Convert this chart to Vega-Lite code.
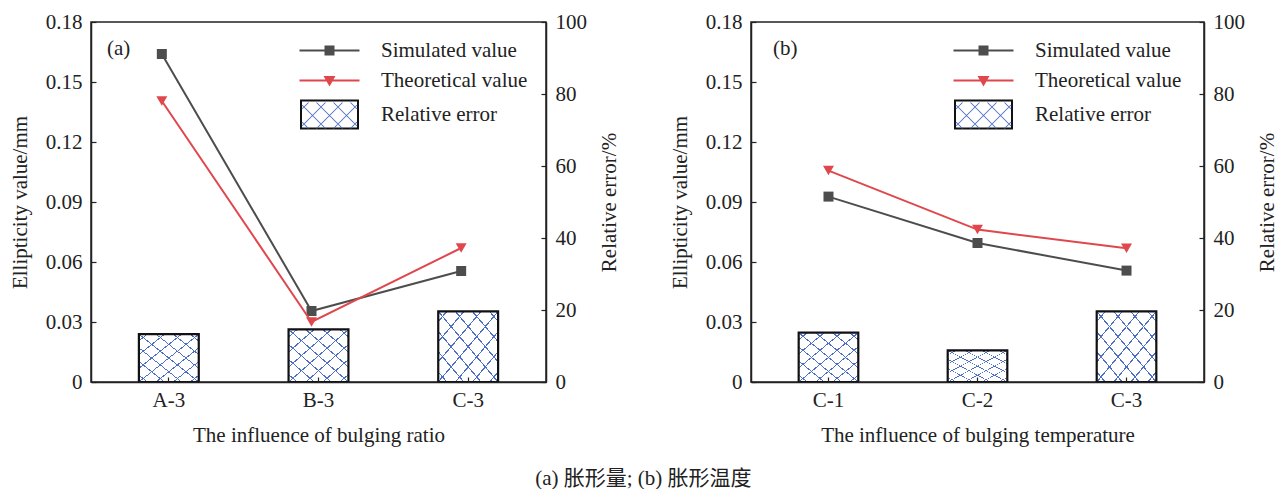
{
  "$schema": "https://vega.github.io/schema/vega-lite/v6.json",
  "background": "white",
  "padding": {"left": 8, "top": 10, "right": 0, "bottom": 0},
  "config": {
    "font": "Liberation Serif",
    "view": {"stroke": "#222", "strokeWidth": 1.5},
    "axis": {"labelFont": "Liberation Serif", "titleFont": "Liberation Serif", "labelFontSize": 21, "titleFontSize": 21, "titleFontWeight": "normal", "labelColor": "#222", "titleColor": "#222", "domainColor": "#222", "tickColor": "#222", "domainWidth": 1.5, "tickWidth": 1.2, "tickSize": -5, "grid": false, "labelPadding": 14},
    "legend": {"labelFont": "Liberation Serif", "labelFontSize": 21, "labelColor": "#222", "padding": 0, "symbolSize": 400, "labelOffset": 41, "rowPadding": 8, "symbolStrokeWidth": 0},
    "title": {"font": "Liberation Serif", "fontWeight": "normal", "color": "#222"}
  },
  "title": {"text": "(a) 胀形量; (b) 胀形温度", "orient": "bottom", "anchor": "middle", "fontSize": 21, "font": "Liberation Serif, Noto Sans CJK SC", "offset": 22},
  "spacing": 47,
  "resolve": {"scale": {"color": "independent", "shape": "independent", "fill": "independent"}},
  "hconcat": [
    {
      "width": 455, "height": 360,
      "title": {"text": "(a)", "anchor": "start", "frame": "group", "fontSize": 21, "dx": 16, "dy": 52},
      "data": {"values": [
        {"cat": "A-3", "sim": 0.164, "theo": 0.1405, "err": 13.3},
        {"cat": "B-3", "sim": 0.0355, "theo": 0.030, "err": 14.6},
        {"cat": "C-3", "sim": 0.0555, "theo": 0.067, "err": 19.6}
      ]},
      "encoding": {"x": {"field": "cat", "type": "nominal", "sort": null, "scale": {"paddingInner": 0.6, "paddingOuter": 0.32}, "axis": {"title": "The influence of bulging ratio", "labelAngle": 0, "zindex": 1, "labelPadding": 12, "titlePadding": 14}}},
      "layer": [
        {
          "encoding": {"y": {"field": "err", "type": "quantitative", "scale": {"domain": [0, 100], "nice": false}, "axis": {"orient": "right", "title": "Relative error/%", "values": [0, 20, 40, 60, 80, 100], "titleAngle": 270, "titleBaseline": "top", "titlePadding": 12}}},
          "layer": [
            {"mark": {"type": "bar", "fill": {"gradient": "linear", "x1": 0, "y1": 0, "x2": 1, "y2": 1, "stops": [
              {"offset": 0, "color": "#ffffff"},
              {"offset": 0.0654, "color": "#ffffff"}, {"offset": 0.0654, "color": "#4d6ec6"}, {"offset": 0.0774, "color": "#4d6ec6"}, {"offset": 0.0774, "color": "#ffffff"},
              {"offset": 0.2083, "color": "#ffffff"}, {"offset": 0.2083, "color": "#4d6ec6"}, {"offset": 0.2203, "color": "#4d6ec6"}, {"offset": 0.2203, "color": "#ffffff"},
              {"offset": 0.3511, "color": "#ffffff"}, {"offset": 0.3511, "color": "#4d6ec6"}, {"offset": 0.3631, "color": "#4d6ec6"}, {"offset": 0.3631, "color": "#ffffff"},
              {"offset": 0.494, "color": "#ffffff"}, {"offset": 0.494, "color": "#4d6ec6"}, {"offset": 0.506, "color": "#4d6ec6"}, {"offset": 0.506, "color": "#ffffff"},
              {"offset": 0.6369, "color": "#ffffff"}, {"offset": 0.6369, "color": "#4d6ec6"}, {"offset": 0.6489, "color": "#4d6ec6"}, {"offset": 0.6489, "color": "#ffffff"},
              {"offset": 0.7797, "color": "#ffffff"}, {"offset": 0.7797, "color": "#4d6ec6"}, {"offset": 0.7917, "color": "#4d6ec6"}, {"offset": 0.7917, "color": "#ffffff"},
              {"offset": 0.9226, "color": "#ffffff"}, {"offset": 0.9226, "color": "#4d6ec6"}, {"offset": 0.9346, "color": "#4d6ec6"}, {"offset": 0.9346, "color": "#ffffff"},
              {"offset": 1, "color": "#ffffff"}]}}},
            {"mark": {"type": "bar", "stroke": "#111111", "strokeWidth": 2.2, "fill": {"gradient": "linear", "x1": 1, "y1": 0, "x2": 0, "y2": 1, "stops": [
              {"offset": 0, "color": "rgba(255,255,255,0)"},
              {"offset": 0.0654, "color": "rgba(255,255,255,0)"}, {"offset": 0.0654, "color": "#4d6ec6"}, {"offset": 0.0774, "color": "#4d6ec6"}, {"offset": 0.0774, "color": "rgba(255,255,255,0)"},
              {"offset": 0.2083, "color": "rgba(255,255,255,0)"}, {"offset": 0.2083, "color": "#4d6ec6"}, {"offset": 0.2203, "color": "#4d6ec6"}, {"offset": 0.2203, "color": "rgba(255,255,255,0)"},
              {"offset": 0.3511, "color": "rgba(255,255,255,0)"}, {"offset": 0.3511, "color": "#4d6ec6"}, {"offset": 0.3631, "color": "#4d6ec6"}, {"offset": 0.3631, "color": "rgba(255,255,255,0)"},
              {"offset": 0.494, "color": "rgba(255,255,255,0)"}, {"offset": 0.494, "color": "#4d6ec6"}, {"offset": 0.506, "color": "#4d6ec6"}, {"offset": 0.506, "color": "rgba(255,255,255,0)"},
              {"offset": 0.6369, "color": "rgba(255,255,255,0)"}, {"offset": 0.6369, "color": "#4d6ec6"}, {"offset": 0.6489, "color": "#4d6ec6"}, {"offset": 0.6489, "color": "rgba(255,255,255,0)"},
              {"offset": 0.7797, "color": "rgba(255,255,255,0)"}, {"offset": 0.7797, "color": "#4d6ec6"}, {"offset": 0.7917, "color": "#4d6ec6"}, {"offset": 0.7917, "color": "rgba(255,255,255,0)"},
              {"offset": 0.9226, "color": "rgba(255,255,255,0)"}, {"offset": 0.9226, "color": "#4d6ec6"}, {"offset": 0.9346, "color": "#4d6ec6"}, {"offset": 0.9346, "color": "rgba(255,255,255,0)"},
              {"offset": 1, "color": "rgba(255,255,255,0)"}]}}}
          ]
        },
        {
          "layer": [
            {"mark": {"type": "line", "color": "#4d4d4d", "strokeWidth": 2, "xOffset": -7, "point": {"shape": "square", "size": 100, "filled": true, "color": "#4d4d4d", "opacity": 1, "xOffset": -7}},
             "encoding": {"y": {"field": "sim", "type": "quantitative", "scale": {"domain": [0, 0.18], "nice": false}, "axis": {"orient": "left", "title": "Ellipticity value/mm", "titlePadding": 15, "values": [0, 0.03, 0.06, 0.09, 0.12, 0.15, 0.18], "labelExpr": "datum.value == 0 ? '0' : format(datum.value, '.2f')"}}}},
            {"mark": {"type": "line", "color": "#e0474c", "strokeWidth": 2, "xOffset": -7, "point": {"shape": "triangle-down", "size": 120, "filled": true, "color": "#e0474c", "opacity": 1, "xOffset": -7}},
             "encoding": {"y": {"field": "theo", "type": "quantitative", "scale": {"domain": [0, 0.18], "nice": false}, "axis": {"orient": "left", "title": "Ellipticity value/mm", "titlePadding": 15, "values": [0, 0.03, 0.06, 0.09, 0.12, 0.15, 0.18], "labelExpr": "datum.value == 0 ? '0' : format(datum.value, '.2f')"}}}},
            {"mark": {"type": "point", "filled": true, "opacity": 1},
             "transform": [{"filter": "false"}],
             "encoding": {
               "color": {"field": "series", "type": "nominal", "scale": {"domain": ["Simulated value", "Theoretical value", "Relative error"], "range": ["#4d4d4d", "#e0474c", "#111111"]}, "legend": {"title": null, "orient": "none", "legendX": 228, "legendY": 18, "labelFont": "Liberation Serif"}},
               "shape": {"field": "series", "type": "nominal", "scale": {"domain": ["Simulated value", "Theoretical value", "Relative error"], "range": ["M-3,-0.1H3V0.1H-3Z M-0.5,-0.5H0.5V0.5H-0.5Z", "M-3,-0.1H3V0.1H-3Z M-0.6,-0.45H0.6L0,0.6Z", "M-2.95,-1.5H2.95V1.5H-2.95Z M-2.75,-1.3V1.3H2.75V-1.3Z"]}, "legend": {"title": null, "orient": "none", "legendX": 228, "legendY": 18, "labelFont": "Liberation Serif"}}
             }},
            {"mark": {"type": "point", "filled": true, "opacity": 1},
             "transform": [{"filter": "false"}],
             "encoding": {
               "fill": {"field": "hatch", "type": "nominal", "scale": {"domain": ["Relative error"], "range": ["#4d6ec6"]}, "legend": {"title": null, "orient": "none", "legendX": 228, "legendY": 83, "labelExpr": "''", "symbolType": "M-1.36,-1.3L-1.24,-1.3L1.36,1.3L1.24,1.3Z M-2.81,-1.05L-2.69,-1.05L-0.34,1.3L-0.46,1.3Z M0.34,-1.3L0.46,-1.3L2.81,1.05L2.69,1.05Z M-2.81,0.65L-2.69,0.65L-2.04,1.3L-2.16,1.3Z M2.04,-1.3L2.16,-1.3L2.81,-0.65L2.69,-0.65Z M1.24,-1.3L1.36,-1.3L-1.24,1.3L-1.36,1.3Z M2.69,-1.05L2.81,-1.05L0.46,1.3L0.34,1.3Z M-0.46,-1.3L-0.34,-1.3L-2.69,1.05L-2.81,1.05Z M2.69,0.65L2.81,0.65L2.16,1.3L2.04,1.3Z M-2.16,-1.3L-2.04,-1.3L-2.69,-0.65L-2.81,-0.65Z"}}
             }}
          ]
        }
      ],
      "resolve": {"scale": {"y": "independent"}}
    },
    {
      "width": 453, "height": 360,
      "title": {"text": "(b)", "anchor": "start", "frame": "group", "fontSize": 21, "dx": 22, "dy": 52},
      "data": {"values": [
        {"cat": "C-1", "sim": 0.0927, "theo": 0.1057, "err": 13.7},
        {"cat": "C-2", "sim": 0.0695, "theo": 0.0762, "err": 8.8},
        {"cat": "C-3", "sim": 0.0557, "theo": 0.0669, "err": 19.6}
      ]},
      "encoding": {"x": {"field": "cat", "type": "nominal", "sort": null, "scale": {"paddingInner": 0.6, "paddingOuter": 0.32}, "axis": {"title": "The influence of bulging temperature", "labelAngle": 0, "zindex": 1, "labelPadding": 12, "titlePadding": 14}}},
      "layer": [
        {
          "encoding": {"y": {"field": "err", "type": "quantitative", "scale": {"domain": [0, 100], "nice": false}, "axis": {"orient": "right", "title": "Relative error/%", "values": [0, 20, 40, 60, 80, 100], "titleAngle": 270, "titleBaseline": "top", "titlePadding": 12}}},
          "layer": [
            {"mark": {"type": "bar", "fill": {"gradient": "linear", "x1": 0, "y1": 0, "x2": 1, "y2": 1, "stops": [
              {"offset": 0, "color": "#ffffff"},
              {"offset": 0.0654, "color": "#ffffff"}, {"offset": 0.0654, "color": "#4d6ec6"}, {"offset": 0.0774, "color": "#4d6ec6"}, {"offset": 0.0774, "color": "#ffffff"},
              {"offset": 0.2083, "color": "#ffffff"}, {"offset": 0.2083, "color": "#4d6ec6"}, {"offset": 0.2203, "color": "#4d6ec6"}, {"offset": 0.2203, "color": "#ffffff"},
              {"offset": 0.3511, "color": "#ffffff"}, {"offset": 0.3511, "color": "#4d6ec6"}, {"offset": 0.3631, "color": "#4d6ec6"}, {"offset": 0.3631, "color": "#ffffff"},
              {"offset": 0.494, "color": "#ffffff"}, {"offset": 0.494, "color": "#4d6ec6"}, {"offset": 0.506, "color": "#4d6ec6"}, {"offset": 0.506, "color": "#ffffff"},
              {"offset": 0.6369, "color": "#ffffff"}, {"offset": 0.6369, "color": "#4d6ec6"}, {"offset": 0.6489, "color": "#4d6ec6"}, {"offset": 0.6489, "color": "#ffffff"},
              {"offset": 0.7797, "color": "#ffffff"}, {"offset": 0.7797, "color": "#4d6ec6"}, {"offset": 0.7917, "color": "#4d6ec6"}, {"offset": 0.7917, "color": "#ffffff"},
              {"offset": 0.9226, "color": "#ffffff"}, {"offset": 0.9226, "color": "#4d6ec6"}, {"offset": 0.9346, "color": "#4d6ec6"}, {"offset": 0.9346, "color": "#ffffff"},
              {"offset": 1, "color": "#ffffff"}]}}},
            {"mark": {"type": "bar", "stroke": "#111111", "strokeWidth": 2.2, "fill": {"gradient": "linear", "x1": 1, "y1": 0, "x2": 0, "y2": 1, "stops": [
              {"offset": 0, "color": "rgba(255,255,255,0)"},
              {"offset": 0.0654, "color": "rgba(255,255,255,0)"}, {"offset": 0.0654, "color": "#4d6ec6"}, {"offset": 0.0774, "color": "#4d6ec6"}, {"offset": 0.0774, "color": "rgba(255,255,255,0)"},
              {"offset": 0.2083, "color": "rgba(255,255,255,0)"}, {"offset": 0.2083, "color": "#4d6ec6"}, {"offset": 0.2203, "color": "#4d6ec6"}, {"offset": 0.2203, "color": "rgba(255,255,255,0)"},
              {"offset": 0.3511, "color": "rgba(255,255,255,0)"}, {"offset": 0.3511, "color": "#4d6ec6"}, {"offset": 0.3631, "color": "#4d6ec6"}, {"offset": 0.3631, "color": "rgba(255,255,255,0)"},
              {"offset": 0.494, "color": "rgba(255,255,255,0)"}, {"offset": 0.494, "color": "#4d6ec6"}, {"offset": 0.506, "color": "#4d6ec6"}, {"offset": 0.506, "color": "rgba(255,255,255,0)"},
              {"offset": 0.6369, "color": "rgba(255,255,255,0)"}, {"offset": 0.6369, "color": "#4d6ec6"}, {"offset": 0.6489, "color": "#4d6ec6"}, {"offset": 0.6489, "color": "rgba(255,255,255,0)"},
              {"offset": 0.7797, "color": "rgba(255,255,255,0)"}, {"offset": 0.7797, "color": "#4d6ec6"}, {"offset": 0.7917, "color": "#4d6ec6"}, {"offset": 0.7917, "color": "rgba(255,255,255,0)"},
              {"offset": 0.9226, "color": "rgba(255,255,255,0)"}, {"offset": 0.9226, "color": "#4d6ec6"}, {"offset": 0.9346, "color": "#4d6ec6"}, {"offset": 0.9346, "color": "rgba(255,255,255,0)"},
              {"offset": 1, "color": "rgba(255,255,255,0)"}]}}}
          ]
        },
        {
          "layer": [
            {"mark": {"type": "line", "color": "#4d4d4d", "strokeWidth": 2, "point": {"shape": "square", "size": 100, "filled": true, "color": "#4d4d4d", "opacity": 1}},
             "encoding": {"y": {"field": "sim", "type": "quantitative", "scale": {"domain": [0, 0.18], "nice": false}, "axis": {"orient": "left", "title": "Ellipticity value/mm", "titlePadding": 15, "values": [0, 0.03, 0.06, 0.09, 0.12, 0.15, 0.18], "labelExpr": "datum.value == 0 ? '0' : format(datum.value, '.2f')"}}}},
            {"mark": {"type": "line", "color": "#e0474c", "strokeWidth": 2, "point": {"shape": "triangle-down", "size": 120, "filled": true, "color": "#e0474c", "opacity": 1}},
             "encoding": {"y": {"field": "theo", "type": "quantitative", "scale": {"domain": [0, 0.18], "nice": false}, "axis": {"orient": "left", "title": "Ellipticity value/mm", "titlePadding": 15, "values": [0, 0.03, 0.06, 0.09, 0.12, 0.15, 0.18], "labelExpr": "datum.value == 0 ? '0' : format(datum.value, '.2f')"}}}},
            {"mark": {"type": "point", "filled": true, "opacity": 1},
             "transform": [{"filter": "false"}],
             "encoding": {
               "color": {"field": "series", "type": "nominal", "scale": {"domain": ["Simulated value", "Theoretical value", "Relative error"], "range": ["#4d4d4d", "#e0474c", "#111111"]}, "legend": {"title": null, "orient": "none", "legendX": 222, "legendY": 18, "labelFont": "Liberation Serif"}},
               "shape": {"field": "series", "type": "nominal", "scale": {"domain": ["Simulated value", "Theoretical value", "Relative error"], "range": ["M-3,-0.1H3V0.1H-3Z M-0.5,-0.5H0.5V0.5H-0.5Z", "M-3,-0.1H3V0.1H-3Z M-0.6,-0.45H0.6L0,0.6Z", "M-2.95,-1.5H2.95V1.5H-2.95Z M-2.75,-1.3V1.3H2.75V-1.3Z"]}, "legend": {"title": null, "orient": "none", "legendX": 222, "legendY": 18, "labelFont": "Liberation Serif"}}
             }},
            {"mark": {"type": "point", "filled": true, "opacity": 1},
             "transform": [{"filter": "false"}],
             "encoding": {
               "fill": {"field": "hatch", "type": "nominal", "scale": {"domain": ["Relative error"], "range": ["#4d6ec6"]}, "legend": {"title": null, "orient": "none", "legendX": 222, "legendY": 83, "labelExpr": "''", "symbolType": "M-1.36,-1.3L-1.24,-1.3L1.36,1.3L1.24,1.3Z M-2.81,-1.05L-2.69,-1.05L-0.34,1.3L-0.46,1.3Z M0.34,-1.3L0.46,-1.3L2.81,1.05L2.69,1.05Z M-2.81,0.65L-2.69,0.65L-2.04,1.3L-2.16,1.3Z M2.04,-1.3L2.16,-1.3L2.81,-0.65L2.69,-0.65Z M1.24,-1.3L1.36,-1.3L-1.24,1.3L-1.36,1.3Z M2.69,-1.05L2.81,-1.05L0.46,1.3L0.34,1.3Z M-0.46,-1.3L-0.34,-1.3L-2.69,1.05L-2.81,1.05Z M2.69,0.65L2.81,0.65L2.16,1.3L2.04,1.3Z M-2.16,-1.3L-2.04,-1.3L-2.69,-0.65L-2.81,-0.65Z"}}
             }}
          ]
        }
      ],
      "resolve": {"scale": {"y": "independent"}}
    }
  ]
}
